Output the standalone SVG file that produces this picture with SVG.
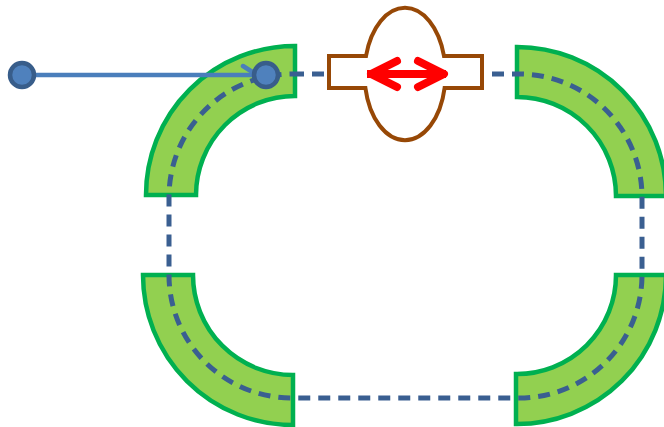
<svg xmlns="http://www.w3.org/2000/svg" width="664" height="427" viewBox="0 0 664 427">
<style>
.band{fill:#92D050;stroke:#00B050;stroke-width:4.5;stroke-linejoin:miter}
.loop{fill:none;stroke:#3A5F91;stroke-width:5;stroke-dasharray:12 8}
.valve{fill:#fff;stroke:#974806;stroke-width:4}
.arrow{fill:none;stroke:#FF0000;stroke-width:8;stroke-linecap:round;stroke-linejoin:round}
.node{fill:#4F81BD;stroke:#385D8A;stroke-width:4.5}
.link{stroke:#4A7EBB;stroke-width:4.5;fill:none}
</style>
<rect width="664" height="427" fill="#fff"/>
<g id="bend-top-left"><path class="band" d="M146 195 A149 149 0 0 1 295 46 L295 96 A99 99 0 0 0 196 195 Z"/></g>
<g id="bend-top-right"><path class="band" d="M517 47 A149 149 0 0 1 666 196 L616 196 A99 99 0 0 0 517 97 Z"/></g>
<g id="bend-bottom-left"><path class="band" d="M143 275 A150 150 0 0 0 293 425 L293 375 A100 100 0 0 1 193 275 Z"/></g>
<g id="bend-bottom-right"><path class="band" d="M666 275 A149 149 0 0 1 516 424 L516 374 A99 99 0 0 0 616 275 Z"/></g>
<g id="connectors">
<rect class="loop" x="169" y="74" width="473" height="324" rx="123" ry="123"/>
<line class="link" x1="22" y1="75" x2="262" y2="75"/>
<line class="link" x1="243" y1="66" x2="254" y2="73" stroke-linecap="round"/>
</g>
<g id="valve">
<path class="valve" d="M366 56 A40.5 66 0 0 1 444 56 L482 56 L482 88 L444.6 88 A40.5 66 0 0 1 365.4 88 L329 88 L329 56 Z"/>
<line x1="367" y1="74" x2="446" y2="74" stroke="#FF0000" stroke-width="8"/>
<polyline class="arrow" points="397,61 371,74 397,87"/>
<polyline class="arrow" points="418,61 444,74 418,87"/>
</g>
<g id="node-left"><circle class="node" cx="22" cy="75" r="12"/></g>
<g id="node-right"><circle class="node" cx="266" cy="75" r="12"/></g>
</svg>
